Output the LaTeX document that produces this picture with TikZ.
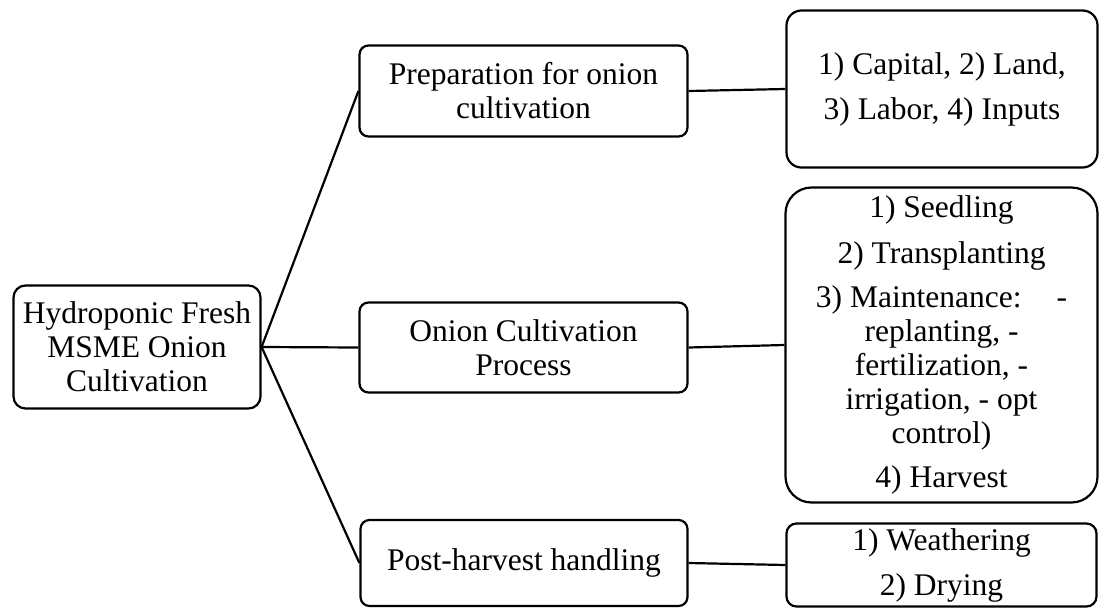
\documentclass[tikz,border=0pt]{standalone}
\usepackage{fontspec}
\setmainfont{Liberation Serif}
\begin{document}
\begin{tikzpicture}[x=1pt,y=-1pt,
  box/.style={draw, line width=2.2pt, rounded corners=#1, inner sep=0pt, align=center,
    font=\fontsize{31.5}{34}\selectfont},
  box/.default=9pt,
  link/.style={line width=2.2pt}]
\useasboundingbox (0,0) rectangle (1103,608);

\node[box=12pt, minimum width=247pt, minimum height=123pt] (root) at (137,347)
  {Hydroponic Fresh\\MSME Onion\\Cultivation};

\node[box, minimum width=328pt, minimum height=91pt] (prep) at (523.5,91)
  {Preparation for onion\\cultivation};
\node[box, minimum width=328pt, minimum height=90pt] (cult) at (523.5,347.5)
  {Onion Cultivation\\Process};
\node[box, minimum width=327pt, minimum height=86pt] (post) at (524,563)
  {Post-harvest handling};

\node[box=15pt, minimum width=311pt, minimum height=157pt] (cap) at (942,89)
  {1) Capital, 2) Land,\\[11pt]3) Labor, 4) Inputs};
\node[box=26pt, minimum width=312pt, minimum height=315pt] (steps) at (941.5,345)
  {1) Seedling\\[12pt]2) Transplanting\\[10pt]3) Maintenance:\hspace{35pt}-\\replanting, -\\fertilization, -\\irrigation, - opt\\control)\\[10pt]4) Harvest};
\node[box=10pt, minimum width=310pt, minimum height=83pt] (weather) at (941.5,565)
  {1) Weathering\\[11pt]2) Drying};

\draw[link] (root.east) -- (prep.west);
\draw[link] (root.east) -- (cult.west);
\draw[link] (root.east) -- (post.west);
\draw[link] (prep.east) -- (cap.west);
\draw[link] (cult.east) -- (steps.west);
\draw[link] (post.east) -- (weather.west);
\end{tikzpicture}
\end{document}
